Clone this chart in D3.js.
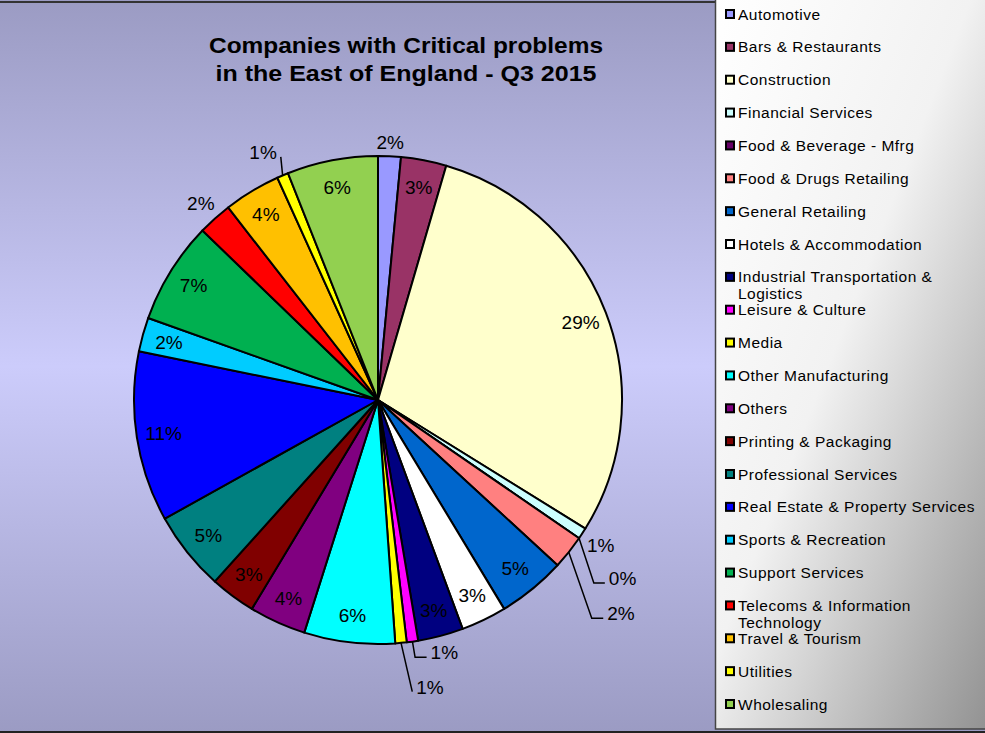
<!DOCTYPE html>
<html><head><meta charset="utf-8">
<script src="https://cdn.jsdelivr.net/npm/d3@7"></script>
<style>html,body{margin:0;padding:0;overflow:hidden;background:#fff}</style>
</head><body>
<script>
// ---------- data ----------
const categories = ["Automotive","Bars & Restaurants","Construction","Financial Services","Food & Beverage - Mfrg","Food & Drugs Retailing","General Retailing","Hotels & Accommodation","Industrial Transportation & Logistics","Leisure & Culture","Media","Other Manufacturing","Others","Printing & Packaging","Professional Services","Real Estate & Property Services","Sports & Recreation","Support Services","Telecoms & Information Technology","Travel & Tourism","Utilities","Wholesaling"];
const counts = [2,4,39,1,0,3,6,4,4,1,1,8,5,4,7,15,3,9,3,5,1,8];
const colors = ["#9999FF","#993366","#FFFFCC","#CCFFFF","#660066","#FF8080","#0066CC","#FFFFFF","#000080","#FF00FF","#FFFF00","#00FFFF","#800080","#800000","#008080","#0000FF","#00CCFF","#00B050","#FF0000","#FFC000","#FFFF00","#92D050"];
const titleLines = ["Companies with Critical problems","in the East of England - Q3 2015"];
// labels shown outside the pie
const outsideLabels = ["Automotive","Financial Services","Telecoms & Information Technology"];
// labels shown with leader lines (elbow in polar coords: degrees clockwise from top, radius)
const leaderLayout = [
  {name:"Food & Beverage - Mfrg", deg:130.3, r:283, hook:11, side:"right"},
  {name:"Food & Drugs Retailing", deg:135.6, r:305.5, hook:11.5, side:"right"},
  {name:"Leisure & Culture", deg:171.8, r:260, hook:11.5, side:"right"},
  {name:"Media", deg:173.3, r:293.7, hook:0, side:"right"},
  {name:"Utilities", deg:338.2, r:261.8, hook:0, side:"left"}
];

// ---------- layout ----------
const W = 985, H = 733;
const cx = 378, cy = 400, R = 244;
const font = "'Liberation Sans', Arial, sans-serif";

const data = categories.map((c,i)=>({name:c, count:counts[i], color:colors[i]}));
const total = d3.sum(counts);
const pct = d3.format(".0%");

const svg = d3.select("body").append("svg").attr("width",W).attr("height",H)
  .style("font-family",font);

const defs = svg.append("defs");
const bg = defs.append("linearGradient").attr("id","bg").attr("x1",0).attr("y1",0).attr("x2",0).attr("y2",1);
bg.append("stop").attr("offset","0%").attr("stop-color","#9b9bc3");
bg.append("stop").attr("offset","50%").attr("stop-color","#ccccfb");
bg.append("stop").attr("offset","100%").attr("stop-color","#9b9bc3");
const lg = defs.append("linearGradient").attr("id","lg").attr("x1",0).attr("y1",0).attr("x2",1).attr("y2",1);
lg.append("stop").attr("offset","0%").attr("stop-color","#ffffff");
lg.append("stop").attr("offset","45%").attr("stop-color","#f2f2f2");
lg.append("stop").attr("offset","100%").attr("stop-color","#8e8e8e");

svg.append("rect").attr("x",0).attr("y",0).attr("width",W).attr("height",H).attr("fill","url(#bg)");
svg.append("line").attr("x1",0).attr("x2",W).attr("y1",2).attr("y2",2).attr("stroke","#333").attr("stroke-width",2);
svg.append("line").attr("x1",0).attr("x2",W).attr("y1",732).attr("y2",732).attr("stroke","#222").attr("stroke-width",2);

// title
const titleWidths = [394, 381];
svg.append("g").selectAll("text").data(titleLines).join("text")
  .attr("x",406).attr("y",(d,i)=>53+i*28)
  .attr("text-anchor","middle").attr("font-weight","bold").attr("font-size",21.5).attr("fill","#000")
  .attr("textLength",(d,i)=>titleWidths[i]).attr("lengthAdjust","spacingAndGlyphs")
  .text(d=>d);

// pie
const pie = d3.pie().sort(null).value(d=>d.count);
const arcs = pie(data);
const arc = d3.arc().innerRadius(0).outerRadius(R);
const g = svg.append("g").attr("transform",`translate(${cx},${cy})`);
g.selectAll("path").data(arcs).join("path")
  .attr("d",arc).attr("fill",d=>d.data.color)
  .attr("stroke","#000").attr("stroke-width",2).attr("stroke-linejoin","round");

const labelArc = d3.arc().innerRadius(217).outerRadius(217);
const leaderNames = leaderLayout.map(d=>d.name);
const inside = arcs.filter(d=>!outsideLabels.includes(d.data.name) && !leaderNames.includes(d.data.name));
g.append("g").selectAll("text").data(inside).join("text")
  .attr("transform",d=>`translate(${labelArc.centroid(d)})`)
  .attr("text-anchor","middle").attr("dy","0.36em").attr("font-size",19).attr("fill","#000")
  .text(d=>pct(d.data.count/total));

// outside labels (no leader)
const outs = arcs.filter(d=>outsideLabels.includes(d.data.name));
g.append("g").selectAll("text").data(outs).join("text")
  .attr("text-anchor","middle").attr("dy","0.36em").attr("font-size",19).attr("fill","#000")
  .text(d=>pct(d.data.count/total))
  .each(function(d){
    const a = (d.startAngle+d.endAngle)/2;
    const bb = this.getBBox();
    const half = Math.abs(Math.sin(a))*bb.width/2 + Math.abs(Math.cos(a))*13/2;
    const r = R + 7 + half;
    d3.select(this).attr("x", r*Math.sin(a)).attr("y", -r*Math.cos(a));
  });

// leader labels
const lgG = g.append("g");
leaderLayout.forEach(L=>{
  const d = arcs.find(a=>a.data.name===L.name);
  const a = (d.startAngle+d.endAngle)/2;
  const p0 = [R*Math.sin(a), -R*Math.cos(a)];
  const ea = L.deg*Math.PI/180;
  const p1 = [L.r*Math.sin(ea), -L.r*Math.cos(ea)];
  const dir = L.side==="right"?1:-1;
  const p2 = [p1[0]+dir*L.hook, p1[1]];
  lgG.append("path").attr("d",d3.line()([p0,p1,p2])).attr("fill","none").attr("stroke","#000").attr("stroke-width",1.5);
  lgG.append("text").attr("x",p2[0]+dir*4).attr("y",p2[1]-5)
    .attr("text-anchor",L.side==="right"?"start":"end").attr("dy","0.36em")
    .attr("font-size",19).attr("fill","#000").text(pct(d.data.count/total));
});

// legend
const lx = 715, ly = -4, lw = 285, lh = 733;
svg.append("rect").attr("x",lx+0.5).attr("y",ly).attr("width",lw).attr("height",lh)
  .attr("fill","url(#lg)").attr("stroke","#444").attr("stroke-width",1.5);
const rowY = d3.scalePoint().domain(categories).range([14,704]);
const items = svg.append("g").selectAll("g").data(data).join("g")
  .attr("transform",d=>`translate(0,${rowY(d.name)})`);
items.append("rect").attr("x",726).attr("y",-4).attr("width",8).attr("height",8)
  .attr("fill",d=>d.color).attr("stroke","#000").attr("stroke-width",2);
items.append("text").attr("x",738).attr("y",5.5).attr("font-size",15.5).attr("letter-spacing","0.5px").attr("fill","#000")
  .each(function(d){
    const t = d3.select(this);
    const words = d.name.split(" ");
    let line = [];
    let ts = t.append("tspan").attr("x",738).attr("dy",0);
    words.forEach(w=>{
      line.push(w);
      ts.text(line.join(" "));
      if (ts.node().getComputedTextLength() > 246 && line.length>1){
        line.pop(); ts.text(line.join(" "));
        line=[w];
        ts = t.append("tspan").attr("x",738).attr("dy",17).text(w);
      }
    });
  });
</script>
</body></html>
